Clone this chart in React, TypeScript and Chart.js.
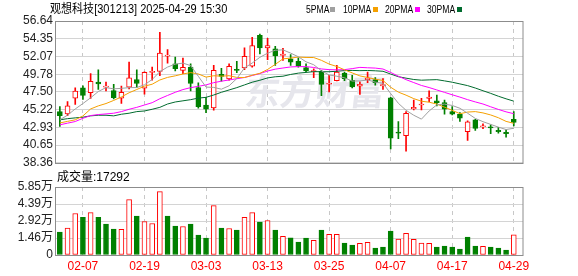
import React, { useEffect, useRef } from "react";
import { Chart, registerables } from "chart.js";

Chart.register(...registerables);

const dates = ["02-04","02-05","02-06","02-07","02-10","02-11","02-12","02-13","02-14","02-17","02-18","02-19","02-20","02-21","02-24","02-25","02-26","02-27","02-28","03-03","03-04","03-05","03-06","03-07","03-10","03-11","03-12","03-13","03-14","03-17","03-18","03-19","03-20","03-21","03-24","03-25","03-26","03-27","03-28","03-31","04-01","04-02","04-03","04-07","04-08","04-09","04-10","04-11","04-14","04-15","04-16","04-17","04-18","04-21","04-22","04-23","04-24","04-25","04-28","04-29"];

const opens = [44.96,44.66,46.70,48.02,47.39,48.75,48.11,47.68,46.70,48.11,
  49.09,47.98,50.02,50.15,52.11,51.13,50.28,50.70,48.07,45.81,
  45.43,49.77,49.16,50.41,50.58,50.83,54.79,53.17,53.04,52.19,
  51.77,51.43,50.62,50.10,50.15,48.49,48.96,49.94,49.00,48.24,
  49.09,49.09,48.28,46.75,42.32,41.85,45.30,45.81,46.66,46.36,
  46.11,44.96,44.62,42.36,43.90,43.00,43.00,42.53,42.28,43.98];

const closes = [44.45,45.72,47.60,47.04,48.87,48.53,48.24,46.75,47.43,49.30,
  48.58,50.02,50.15,52.49,52.24,50.49,50.66,48.58,45.60,45.26,
  50.28,49.51,50.79,50.28,52.07,53.47,53.17,53.47,52.15,52.36,
  51.34,50.83,50.22,50.26,48.45,48.62,50.07,49.21,48.15,48.49,
  49.26,48.70,48.45,41.55,42.19,44.75,45.51,45.94,46.83,46.11,
  45.26,44.62,44.11,43.64,42.79,43.13,42.87,42.36,42.11,43.56];

const highs = [45.60,46.24,48.02,48.28,49.85,50.36,48.75,48.49,48.24,51.34,
  50.36,50.10,50.70,55.17,52.96,51.98,51.85,51.13,48.66,46.79,
  50.92,50.53,51.13,51.43,53.17,54.53,54.95,54.41,53.38,53.13,
  52.32,51.90,51.13,50.49,50.28,49.64,50.92,50.07,49.64,48.79,
  50.07,49.34,49.21,46.80,43.68,44.96,46.45,46.66,47.64,47.09,
  46.45,45.60,44.83,43.77,43.98,43.39,43.26,42.92,42.62,44.96];

const lows = [43.04,44.45,45.90,46.53,46.66,47.81,47.64,46.58,46.02,47.90,
  48.07,47.21,49.00,49.60,51.21,50.19,49.85,47.64,45.39,44.83,
  45.13,48.87,49.00,49.98,50.36,50.70,52.41,51.64,50.92,51.55,
  50.92,50.70,50.07,49.34,47.00,47.51,48.90,48.96,48.02,47.17,
  48.70,48.36,47.81,40.15,41.47,39.85,45.17,45.17,46.24,45.68,
  44.62,44.53,43.68,41.26,42.53,42.75,42.11,42.19,41.68,43.13];

const volumes = [19700,23100,35700,32500,36500,32500,26500,22300,22000,47700,
  33400,28800,27100,54500,33400,24800,24500,26500,17100,14600,
  42500,23100,22800,21400,32300,36500,28300,29700,21400,16000,
  14800,11100,14600,12600,21400,17700,17700,10300,8600,10000,
  10800,6000,6800,20500,13700,18600,13400,10300,10000,6800,
  7700,6800,5100,15400,7700,7400,6800,6000,4300,17292];

const ma5 = [43.90,44.50,45.30,46.00,46.74,47.55,48.06,47.89,47.96,48.05,
  48.06,48.42,49.10,50.11,50.70,51.08,51.21,50.89,49.51,48.12,
  48.08,47.85,48.29,49.22,50.59,51.22,51.96,52.49,52.87,52.92,
  52.50,52.03,51.38,51.00,50.22,49.68,49.52,49.32,48.90,48.91,
  49.04,48.76,48.61,47.29,46.03,45.13,44.49,43.99,45.04,45.83,
  45.93,45.75,45.39,44.75,44.08,43.66,43.31,42.96,42.65,42.81];

const ma10 = [43.50,43.70,43.90,44.40,45.30,45.70,46.00,46.40,46.85,47.39,
  47.81,48.24,48.49,49.04,49.37,49.57,49.81,49.99,49.81,49.41,
  49.58,49.53,49.59,49.37,49.35,49.65,49.90,50.39,51.05,51.76,
  51.86,51.99,51.94,51.93,51.57,51.09,50.78,50.35,49.95,49.56,
  49.36,49.14,48.97,48.10,47.47,47.08,46.63,46.30,46.17,45.93,
  45.53,45.12,44.69,44.90,44.96,44.79,44.53,44.17,43.70,43.45];

const ma20 = [43.26,43.47,43.68,44.10,44.45,44.58,44.66,44.75,44.96,45.26,
  45.51,45.81,46.11,46.62,47.04,47.45,47.80,48.05,48.22,48.40,
  48.69,48.88,49.04,49.20,49.36,49.61,49.86,50.19,50.43,50.58,
  50.72,50.76,50.76,50.65,50.46,50.37,50.34,50.37,50.50,50.66,
  50.61,50.57,50.45,50.01,49.52,49.08,48.70,48.33,48.06,47.75,
  47.44,47.13,46.83,46.50,46.21,45.94,45.58,45.24,44.93,44.69];

const ma30 = [43.90,44.05,44.15,44.24,44.41,44.49,44.49,44.41,44.62,44.75,
  44.96,45.04,45.26,45.51,45.94,46.20,46.35,46.50,46.70,46.80,
  47.10,47.45,47.75,48.05,48.40,48.75,49.00,49.30,49.45,49.52,
  49.75,49.92,50.01,50.11,50.10,50.10,50.16,50.25,50.27,50.24,
  50.26,50.22,50.16,49.80,49.46,49.27,49.10,49.01,49.05,49.08,
  48.92,48.75,48.53,48.31,48.00,47.65,47.31,46.94,46.61,46.31];

const priceTicks = [38.36, 40.65, 42.93, 45.22, 47.5, 49.78, 52.07, 54.35, 56.64];
const volumeTicks = [0, 14625, 29250, 43875, 58500];
const volumeTickLabels = ["0", "1.46万", "2.92万", "4.39万", "5.85万"];
const shownDates = ["02-07", "02-19", "03-03", "03-13", "03-25", "04-07", "04-17", "04-29"];

const stockTitle = "观想科技[301213] 2025-04-29 15:30";
const volumeTitle = "成交量:17292";
const watermarkText = "东方财富";

const maSeries = [
  { label: "5PMA", color: "#a0a0a0", values: ma5 },
  { label: "10PMA", color: "#f5a000", values: ma10 },
  { label: "20PMA", color: "#ff00ff", values: ma20 },
  { label: "30PMA", color: "#006b2e", values: ma30 },
];

const RED = "#ff0000";
const GREEN = "#008000";
const FONT = "'Liberation Sans', Arial, 'Noto Sans CJK SC', sans-serif";

const framePlugin = {
  id: "frame",
  afterDraw(chart: any) {
    const { ctx, chartArea: a } = chart;
    ctx.save();
    ctx.strokeStyle = "#8c8c8c";
    ctx.lineWidth = 1;
    ctx.strokeRect(Math.round(a.left) - 0.5, Math.round(a.top) + 0.5, Math.round(a.right - a.left) + 0.5, Math.round(a.bottom - a.top));
    ctx.restore();
  },
};

const watermarkPlugin = {
  id: "watermark",
  beforeDatasetsDraw(chart: any) {
    const { ctx, chartArea: a } = chart;
    ctx.save();
    ctx.fillStyle = "#e6e6ec";
    ctx.font = "bold 35px 'Noto Sans CJK SC'";
    ctx.textBaseline = "middle";
    ctx.textAlign = "left";
    const cx = (a.left + a.right) / 2;
    ctx.setTransform(1, 0, -0.12, 1, 0, 0);
    ctx.fillText(watermarkText, cx - 44 + 11, 92);
    ctx.restore();
  },
};

function xScale(showLabels: boolean) {
  const tickIdx = shownDates.map((d) => dates.indexOf(d));
  return {
    type: "linear",
    min: -0.5,
    max: dates.length + 0.2,
    offset: false,
    grid: { color: "#c8c8c8", lineWidth: 1, drawTicks: false, offset: false },
    border: { display: false, dash: [4, 4] },
    afterBuildTicks: (s: any) => {
      s.ticks = tickIdx.map((v) => ({ value: v }));
    },
    ticks: {
      display: showLabels,
      color: RED,
      font: { family: FONT, size: 12 },
      padding: 4,
      maxRotation: 0,
      autoSkip: false,
      callback: (v: any) => dates[v] ?? "",
    },
    afterFit: (s: any) => {
      s.height = showLabels ? 21 : 0;
    },
  };
}

export default function App() {
  const priceRef = useRef<HTMLCanvasElement>(null);
  const volRef = useRef<HTMLCanvasElement>(null);

  useEffect(() => {
    const idx = dates.map((_, i) => i);
    const candleUp = idx.map((i) => closes[i] >= opens[i]);
    const volUp = idx.map((i) => (i === 0 ? closes[0] >= opens[0] : closes[i] >= closes[i - 1]));

    const price = new Chart(priceRef.current as HTMLCanvasElement, {
      type: "bar",
      data: {
        datasets: [
          ...maSeries.map((m, k) => ({
            type: "line",
            label: m.label,
            data: m.values.map((v, i) => ({ x: i, y: v })),
            borderColor: m.color,
            borderWidth: 1,
            pointRadius: 0,
            tension: 0,
            order: k,
          })),
          {
            type: "bar",
            label: "body",
            data: idx.map((i) => ({ x: i, y: [opens[i], closes[i]] })),
            backgroundColor: idx.map((i) => (candleUp[i] ? "#ffffff" : GREEN)),
            borderColor: idx.map((i) => (candleUp[i] ? RED : GREEN)),
            borderWidth: 1,
            borderSkipped: false,
            barThickness: 5,
            minBarLength: 1,
            grouped: false,
            order: 10,
          },
          {
            type: "bar",
            label: "wick",
            data: idx.map((i) => ({ x: i, y: [lows[i], highs[i]] })),
            backgroundColor: idx.map((i) => (candleUp[i] ? RED : GREEN)),
            barThickness: 1,
            grouped: false,
            order: 11,
          },
        ] as any,
      },
      options: {
        responsive: false,
        animation: false,
        events: [],
        layout: { padding: { top: 21, bottom: 8, left: 0, right: 55 } },
        plugins: { legend: { display: false }, tooltip: { enabled: false } },
        scales: {
          x: xScale(false) as any,
          y: {
            type: "linear",
            min: priceTicks[0],
            max: priceTicks[priceTicks.length - 1],
            afterBuildTicks: (s: any) => {
              s.ticks = priceTicks.map((v) => ({ value: v }));
            },
            ticks: {
              color: "#222",
              font: { family: FONT, size: 12 },
              padding: 3,
              autoSkip: false,
              callback: (v: any) => Number(v).toFixed(2),
            },
            grid: { color: "#d4d4d4", drawTicks: false },
            border: { display: false },
            afterFit: (s: any) => {
              s.width = 56;
            },
          } as any,
        },
      },
      plugins: [watermarkPlugin, framePlugin],
    });

    const vol = new Chart(volRef.current as HTMLCanvasElement, {
      type: "bar",
      data: {
        datasets: [
          {
            type: "bar",
            label: "volume",
            data: idx.map((i) => ({ x: i, y: volumes[i] })),
            backgroundColor: idx.map((i) => (volUp[i] ? "#ffffff" : GREEN)),
            borderColor: idx.map((i) => (volUp[i] ? RED : GREEN)),
            borderWidth: 1,
            borderSkipped: false,
            barThickness: 5,
            grouped: false,
          },
        ] as any,
      },
      options: {
        responsive: false,
        animation: false,
        events: [],
        layout: { padding: { top: 14, bottom: 0, left: 0, right: 55 } },
        plugins: { legend: { display: false }, tooltip: { enabled: false } },
        scales: {
          x: xScale(true) as any,
          y: {
            type: "linear",
            min: volumeTicks[0],
            max: volumeTicks[volumeTicks.length - 1],
            afterBuildTicks: (s: any) => {
              s.ticks = volumeTicks.map((v) => ({ value: v }));
            },
            ticks: {
              color: "#222",
              font: { family: FONT, size: 12 },
              padding: 3,
              autoSkip: false,
              callback: (v: any) => volumeTickLabels[volumeTicks.indexOf(Number(v))] ?? "",
            },
            grid: { color: "#d4d4d4", drawTicks: false },
            border: { display: false },
            afterFit: (s: any) => {
              s.width = 56;
            },
          } as any,
        },
      },
      plugins: [framePlugin],
    });

    return () => {
      price.destroy();
      vol.destroy();
    };
  }, []);

  const legendX = [306, 343, 385, 427];
  const squareX = [330, 373, 415, 457];

  return (
    <div style={{ position: "fixed", left: 0, top: 0, width: 578, height: 276, background: "#fff", overflow: "hidden", fontFamily: FONT }}>
      <canvas ref={priceRef} width={578} height={173} style={{ position: "absolute", left: 0, top: 0, width: 578, height: 173 }} />
      <canvas ref={volRef} width={578} height={103} style={{ position: "absolute", left: 0, top: 173, width: 578, height: 103 }} />
      <div style={{ position: "absolute", left: 50, top: 2, fontSize: 12, lineHeight: "14px", color: "#000", whiteSpace: "nowrap", transform: "scaleX(0.92)", transformOrigin: "left center" }}>
        {stockTitle}
      </div>
      {maSeries.map((m, k) => (
        <React.Fragment key={m.label}>
          <div style={{ position: "absolute", left: legendX[k], top: 2, fontSize: 11, lineHeight: "14px", color: "#000", whiteSpace: "nowrap", transform: "scaleX(0.78)", transformOrigin: "left center" }}>
            {m.label}
          </div>
          <div style={{ position: "absolute", left: squareX[k], top: 7, width: 5, height: 5, background: m.color }} />
        </React.Fragment>
      ))}
      <div style={{ position: "absolute", left: 57, top: 170, fontSize: 12, lineHeight: "14px", color: "#000", whiteSpace: "nowrap" }}>
        {volumeTitle}
      </div>
    </div>
  );
}
